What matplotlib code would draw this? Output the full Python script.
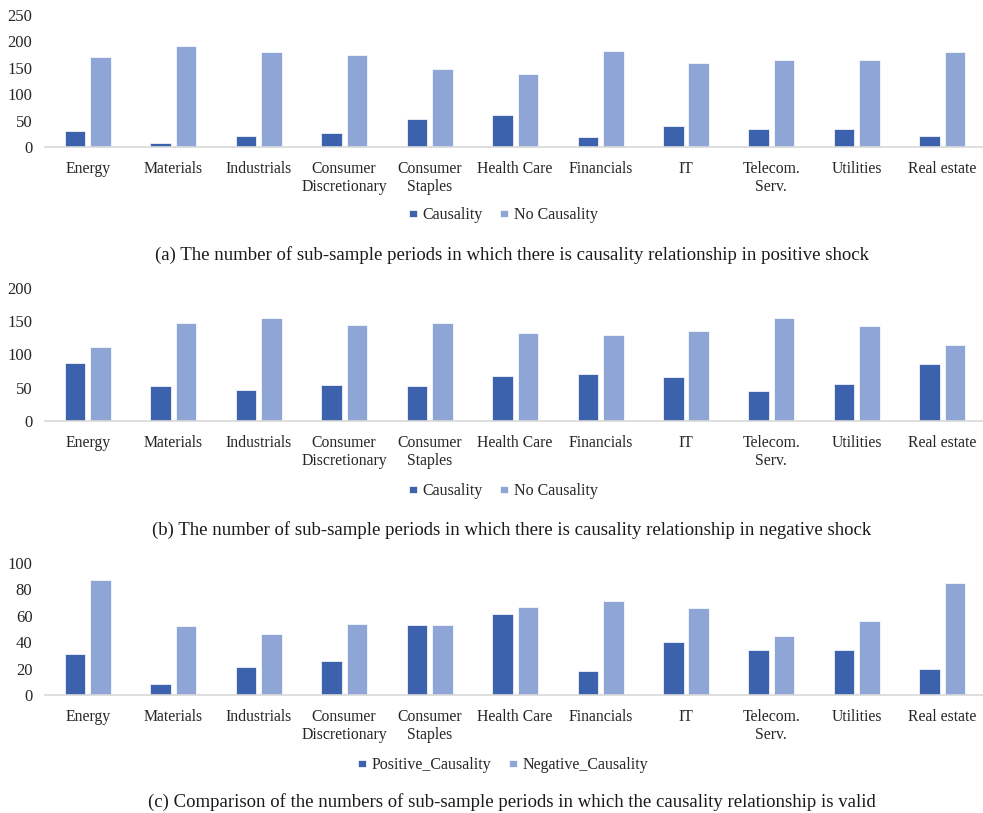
import matplotlib
matplotlib.use("Agg")
import matplotlib.pyplot as plt
import numpy as np

plt.rcParams['font.family'] = ['Liberation Serif', 'DejaVu Serif']

sectors = ['Energy', 'Materials', 'Industrials', 'Consumer\nDiscretionary', 'Consumer\nStaples',
           'Health Care', 'Financials', 'IT', 'Telecom.\nServ.', 'Utilities', 'Real estate']

# sub-sample counts, positive shock
pos_causality = [31, 8, 21, 26, 53, 61, 18, 40, 34, 34, 20]
pos_no_causality = [170, 192, 180, 175, 148, 138, 182, 160, 164, 164, 179]

# sub-sample counts, negative shock
neg_causality = [87, 52, 46, 54, 53, 67, 71, 66, 45, 56, 85]
neg_no_causality = [112, 147, 155, 145, 147, 133, 130, 136, 155, 143, 114]

captions = [
    '(a) The number of sub-sample periods in which there is causality relationship in positive shock',
    '(b) The number of sub-sample periods in which there is causality relationship in negative shock',
    '(c) Comparison of the numbers of sub-sample periods in which the causality relationship is valid',
]

DARK = '#3c62ad'
LIGHT = '#8fa5d5'
W, H = 983, 813

fig = plt.figure(figsize=(W / 100, H / 100), dpi=100)


def px_axes(top, bottom, left=45, right=985):
    return fig.add_axes([left / W, 1 - bottom / H, (right - left) / W, (bottom - top) / H])


def draw_panel(ax, first, second, labels, ymax, step, legend_y, caption, caption_y):
    x = np.arange(len(sectors))
    ax.bar(x - 0.148, first, width=0.24, color=DARK, edgecolor='white', linewidth=0.5, label=labels[0])
    ax.bar(x + 0.15, second, width=0.24, color=LIGHT, edgecolor='white', linewidth=0.5, label=labels[1])
    ax.set_xlim(-0.5, len(sectors) - 0.5)
    ax.set_ylim(0, ymax)
    ax.set_yticks(np.arange(0, ymax + 1, step))
    ax.set_xticks(x)
    ax.set_xticklabels(sectors, linespacing=1.15)
    ax.tick_params(axis='x', length=0, labelsize=11.3, colors='#262626', pad=10)
    ax.tick_params(axis='y', length=0, labelsize=12, colors='#262626', pad=9)
    for side in ['top', 'right', 'left']:
        ax.spines[side].set_visible(False)
    ax.spines['bottom'].set_color('#d9d9d9')
    ax.spines['bottom'].set_linewidth(1.2)
    ax.legend(loc='center', bbox_to_anchor=(503 / W, 1 - legend_y / H), bbox_transform=fig.transFigure,
              ncol=2, frameon=False, fontsize=11.5, handlelength=0.5, handleheight=0.3,
              handletextpad=0.35, columnspacing=1.1, labelcolor='#262626')
    fig.text(512 / W, 1 - caption_y / H, caption, ha='center', va='center', fontsize=13.5, color='#1a1a1a')


ax_a = px_axes(15, 147)
draw_panel(ax_a, pos_causality, pos_no_causality, ['Causality', 'No Causality'], 250, 50, 215, captions[0], 255)

ax_b = px_axes(288, 421)
draw_panel(ax_b, neg_causality, neg_no_causality, ['Causality', 'No Causality'], 200, 50, 491, captions[1], 530)

ax_c = px_axes(563, 695)
draw_panel(ax_c, pos_causality, neg_causality, ['Positive_Causality', 'Negative_Causality'], 100, 20, 765,
           captions[2], 802)

fig.savefig('out.png', dpi=100, facecolor='white')
